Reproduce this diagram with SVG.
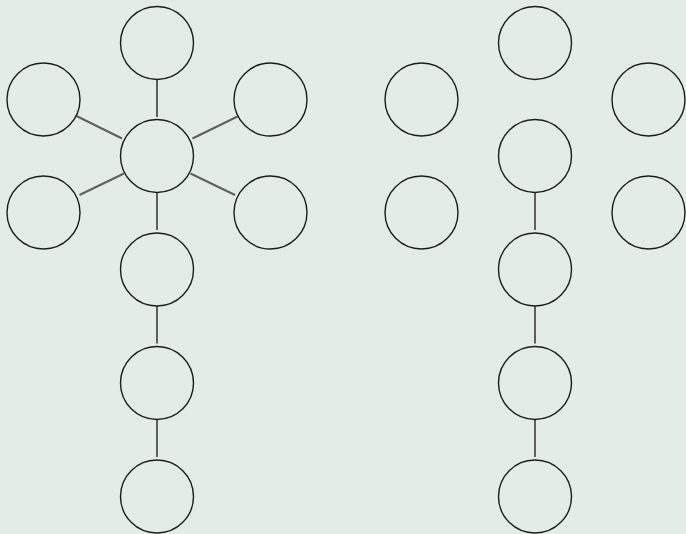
<svg xmlns="http://www.w3.org/2000/svg" width="686" height="534" viewBox="0 0 686 534">
<style>
.n{fill:none;stroke:#1c1c1c;stroke-width:1.4}
.e{stroke:#5f5f5f;stroke-width:2;fill:none}
</style>
<rect width="686" height="534" fill="#e4ede5"/>
<g id="edges">
<line class="e" x1="157" y1="79.5" x2="157" y2="117"/>
<line class="e" x1="76.5" y1="116" x2="122" y2="138.5"/>
<line class="e" x1="192.5" y1="138.5" x2="237.5" y2="116.5"/>
<line class="e" x1="124" y1="173.5" x2="79.5" y2="195"/>
<line class="e" x1="190.5" y1="173.5" x2="235" y2="195"/>
<line class="e" x1="157" y1="192.5" x2="157" y2="230"/>
<line class="e" x1="157" y1="306" x2="157" y2="343.5"/>
<line class="e" x1="157" y1="419.5" x2="157" y2="457"/>
<line class="e" x1="535" y1="192.5" x2="535" y2="230"/>
<line class="e" x1="535" y1="306" x2="535" y2="343.5"/>
<line class="e" x1="535" y1="419.5" x2="535" y2="457"/>
</g>
<g id="a0"><circle class="n" cx="157" cy="43" r="36.5"/></g>
<g id="a1"><circle class="n" cx="43.5" cy="99.5" r="36.5"/></g>
<g id="a2"><circle class="n" cx="270.5" cy="99.5" r="36.5"/></g>
<g id="a3"><circle class="n" cx="157" cy="156" r="36.5"/></g>
<g id="a4"><circle class="n" cx="43.5" cy="212.5" r="36.5"/></g>
<g id="a5"><circle class="n" cx="270.5" cy="212.5" r="36.5"/></g>
<g id="a6"><circle class="n" cx="157" cy="269.5" r="36.5"/></g>
<g id="a7"><circle class="n" cx="157" cy="383" r="36.5"/></g>
<g id="a8"><circle class="n" cx="157" cy="496.5" r="36.5"/></g>
<g id="b0"><circle class="n" cx="535" cy="43" r="36.5"/></g>
<g id="b1"><circle class="n" cx="421.5" cy="99.5" r="36.5"/></g>
<g id="b2"><circle class="n" cx="648.5" cy="99.5" r="36.5"/></g>
<g id="b3"><circle class="n" cx="535" cy="156" r="36.5"/></g>
<g id="b4"><circle class="n" cx="421.5" cy="212.5" r="36.5"/></g>
<g id="b5"><circle class="n" cx="648.5" cy="212.5" r="36.5"/></g>
<g id="b6"><circle class="n" cx="535" cy="269.5" r="36.5"/></g>
<g id="b7"><circle class="n" cx="535" cy="383" r="36.5"/></g>
<g id="b8"><circle class="n" cx="535" cy="496.5" r="36.5"/></g>
</svg>
